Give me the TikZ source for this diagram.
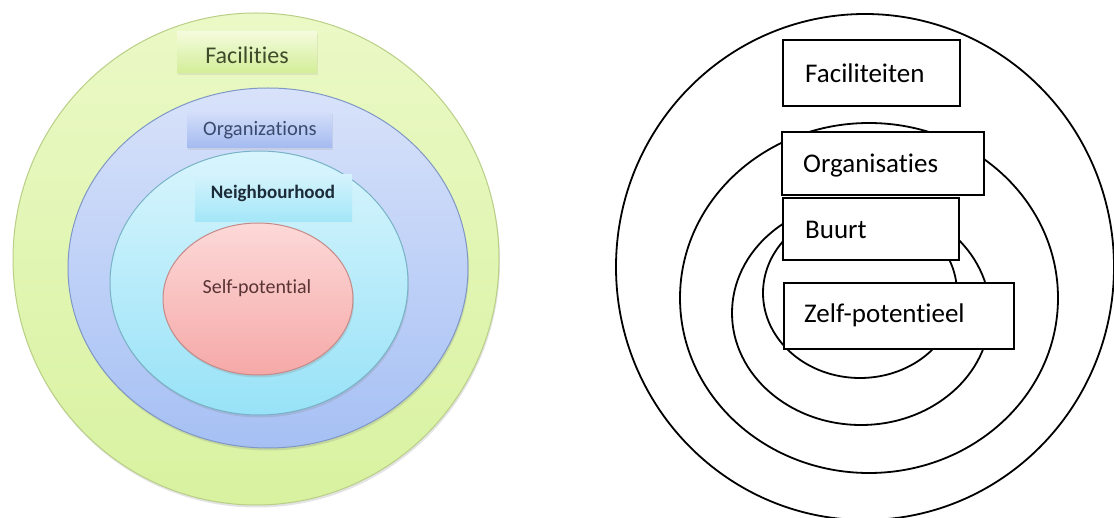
\documentclass[tikz,border=0pt]{standalone}
\usepackage{fontspec}
\setmainfont{Carlito}[Ligatures=NoCommon]
\usetikzlibrary{shapes.geometric,shadings,shadows}
\definecolor{grnT}{HTML}{EBF9C6}
\definecolor{grnB}{HTML}{D8F2A0}
\definecolor{grnD}{HTML}{B9CF86}
\definecolor{bluT}{HTML}{D8E2FA}
\definecolor{bluB}{HTML}{A6C0F4}
\definecolor{bluD}{HTML}{7F97C4}
\definecolor{cyaT}{HTML}{D8F5FD}
\definecolor{cyaB}{HTML}{98E2F7}
\definecolor{cyaD}{HTML}{78B2C6}
\definecolor{redT}{HTML}{FCD9D8}
\definecolor{redB}{HTML}{F5A9A8}
\definecolor{redD}{HTML}{C58A88}
\definecolor{fbT}{HTML}{F4FBDC}
\definecolor{fbB}{HTML}{D3EE98}
\definecolor{obT}{HTML}{D3DEFA}
\definecolor{obB}{HTML}{A4BAF0}
\definecolor{nbT}{HTML}{D4F3FC}
\definecolor{nbB}{HTML}{A3E6F8}
\definecolor{txtG}{HTML}{3F4C2A}
\definecolor{txtB}{HTML}{3A4A6E}
\definecolor{txtN}{HTML}{1C2B38}
\definecolor{txtR}{HTML}{5A3434}
\tikzset{
  ring/.style={ellipse, inner sep=0pt, line width=1pt,
    drop shadow={shadow xshift=1pt, shadow yshift=-2.5pt, opacity=.22}},
  lbox/.style={rectangle, inner sep=0pt, draw=none,
    drop shadow={shadow xshift=1pt, shadow yshift=-2pt, opacity=.15}},
  rcirc/.style={ellipse, draw=black, line width=1.8pt, inner sep=0pt},
  rbox/.style={rectangle, draw=black, fill=white, line width=1.9pt, inner sep=0pt},
  rtext/.style={anchor=base west, inner sep=0pt, font=\fontsize{27}{30}\selectfont, text=black},
}
\begin{document}
\begin{tikzpicture}[x=1pt,y=-1pt]
\useasboundingbox (0,0) rectangle (1114,518);
\fill[white] (0,0) rectangle (1114,518);
\clip (0,0) rectangle (1114,518);
% ---------- left diagram ----------
\node[ring, draw=grnD, top color=grnT, bottom color=grnB,
      minimum width=486pt, minimum height=492pt] (green) at (256,259) {};
\node[ring, draw=bluD, top color=bluT, bottom color=bluB,
      minimum width=400pt, minimum height=360pt] (blue) at (268,268) {};
\node[ring, draw=cyaD, top color=cyaT, bottom color=cyaB,
      minimum width=298pt, minimum height=264pt] (cyan) at (259,283) {};
\node[ring, draw=redD, top color=redT, bottom color=redB,
      minimum width=190pt, minimum height=152pt] (red) at (258,299) {};
\node[lbox, top color=fbT, bottom color=fbB,
      minimum width=140pt, minimum height=41pt] (facbox) at (247,52.5) {};
\node[lbox, top color=obT, bottom color=obB,
      minimum width=145pt, minimum height=36pt] (orgbox) at (259.5,130) {};
\node[rectangle, inner sep=0pt, top color=nbT, bottom color=nbB,
      minimum width=157pt, minimum height=47pt] (neibox) at (273.5,198.5) {};
\node[text=txtG, font=\fontsize{24}{27}\selectfont, inner sep=0pt] (factxt) at (247,55) {Facilities};
\node[text=txtB, font=\fontsize{20.5}{24}\selectfont, inner sep=0pt] (orgtxt) at (260,130) {Organizations};
\node[text=txtN, font=\bfseries\fontsize{19}{22}\selectfont, inner sep=0pt] (neitxt) at (273,193) {Neighbourhood};
\node[text=txtR, font=\fontsize{20}{23}\selectfont, inner sep=0pt] (seltxt) at (257,288) {Self-potential};
% ---------- right diagram ----------
\node[rcirc, minimum width=498pt, minimum height=506pt] (c1) at (865,267) {};
\node[rcirc, minimum width=378pt, minimum height=350pt] (c2) at (869,298) {};
\node[rcirc, minimum width=258pt, minimum height=224pt] (c3) at (861,313) {};
\node[rcirc, minimum width=194pt, minimum height=170pt] (c4) at (860,293) {};
\node[rbox, minimum width=177pt, minimum height=66pt] (fac) at (871.5,73) {};
\node[rbox, minimum width=202pt, minimum height=63pt] (org) at (883,163.5) {};
\node[rbox, minimum width=176pt, minimum height=62pt] (buu) at (871,229) {};
\node[rbox, minimum width=230pt, minimum height=66pt] (zel) at (899,316) {};
\node[rtext] (factx) at (805,83) {Faciliteiten};
\node[rtext] (orgtx) at (803,173) {Organisaties};
\node[rtext] (buutx) at (805,239) {Buurt};
\node[rtext] (zeltx) at (804,323) {Zelf-potentieel};
\end{tikzpicture}
\end{document}
